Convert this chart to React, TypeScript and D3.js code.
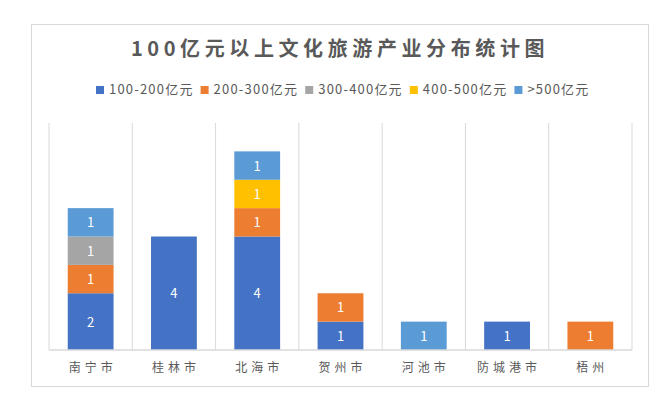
import { useEffect, useRef } from "react";
import * as d3 from "d3";

const cities = ["南宁市", "桂林市", "北海市", "贺州市", "河池市", "防城港市", "梧州"];
const seriesNames = ["100-200亿元", "200-300亿元", "300-400亿元", "400-500亿元", ">500亿元"];
const seriesColors = ["#4472C4", "#ED7D31", "#A5A5A5", "#FFC000", "#5B9BD5"];

const range100to200 = [2, 4, 4, 1, 0, 1, 0];
const range200to300 = [1, 0, 1, 1, 0, 0, 1];
const range300to400 = [1, 0, 0, 0, 0, 0, 0];
const range400to500 = [0, 0, 1, 0, 0, 0, 0];
const rangeOver500 = [1, 0, 1, 0, 1, 0, 0];

const title = "100亿元以上文化旅游产业分布统计图";
const FONT = "'Noto Sans CJK SC', 'Noto Sans', sans-serif";

export default function App() {
  const svgRef = useRef<SVGSVGElement>(null);

  useEffect(() => {
    if (!svgRef.current) return;
    const svg = d3.select(svgRef.current);
    svg.selectAll("*").remove();

    const width = 665;
    const height = 399;
    svg.attr("width", width).attr("height", height);

    svg.append("rect").attr("width", width).attr("height", height).attr("fill", "#fff");

    // chart frame
    svg
      .append("rect")
      .attr("x", 31.5)
      .attr("y", 24.5)
      .attr("width", 617)
      .attr("height", 362)
      .attr("fill", "#fff")
      .attr("stroke", "#d9d9d9");

    // Title
    svg
      .append("text")
      .attr("x", 340)
      .attr("y", 56)
      .attr("text-anchor", "middle")
      .attr("font-family", FONT)
      .attr("font-size", 20)
      .attr("font-weight", "bold")
      .attr("letter-spacing", 4.6)
      .attr("fill", "#595959")
      .text(title);

    // Legend
    const legend = svg.append("g").attr("font-family", FONT).attr("font-size", 13);
    let lx = 96;
    seriesNames.forEach((name, i) => {
      legend
        .append("rect")
        .attr("x", lx)
        .attr("y", 86)
        .attr("width", 8)
        .attr("height", 8)
        .attr("fill", seriesColors[i]);
      const t = legend
        .append("text")
        .attr("x", lx + 13)
        .attr("y", 94)
        .attr("letter-spacing", 1.2)
        .attr("fill", "#595959")
        .text(name);
      const w = (t.node() as SVGTextElement).getComputedTextLength();
      lx += 13 + w + 7;
    });

    const rows = cities.map((c, i) => ({
      city: c,
      [seriesNames[0]]: range100to200[i],
      [seriesNames[1]]: range200to300[i],
      [seriesNames[2]]: range300to400[i],
      [seriesNames[3]]: range400to500[i],
      [seriesNames[4]]: rangeOver500[i],
    }));

    const x = d3.scaleBand().domain(cities).range([49, 632]).padding(0);
    const y = d3.scaleLinear().domain([0, 8]).range([350, 123]);
    const barW = x.bandwidth() * 0.55;

    // category separators
    const grid = [...cities.map((c) => x(c)!), 632];
    svg
      .append("g")
      .selectAll("line")
      .data(grid)
      .join("line")
      .attr("x1", (d) => d)
      .attr("x2", (d) => d)
      .attr("y1", y(8))
      .attr("y2", y(0))
      .attr("stroke", "#d9d9d9");

    const stack = d3.stack<any>().keys(seriesNames);
    const layers = stack(rows);

    const g = svg.append("g");
    layers.forEach((layer, i) => {
      layer.forEach((d) => {
        const v = d[1] - d[0];
        if (v <= 0) return;
        const cx = x(d.data.city)! + x.bandwidth() / 2;
        g.append("rect")
          .attr("x", cx - barW / 2)
          .attr("y", y(d[1]))
          .attr("width", barW)
          .attr("height", y(d[0]) - y(d[1]))
          .attr("fill", seriesColors[i]);
        g.append("text")
          .attr("x", cx)
          .attr("y", (y(d[0]) + y(d[1])) / 2 + 5)
          .attr("text-anchor", "middle")
          .attr("font-family", FONT)
          .attr("font-size", 13)
          .attr("fill", "#fff")
          .text(v);
      });
    });

    // baseline
    svg
      .append("line")
      .attr("x1", 49)
      .attr("x2", 632)
      .attr("y1", y(0))
      .attr("y2", y(0))
      .attr("stroke", "#d9d9d9")
      .attr("stroke-width", 1.5);

    // x labels
    svg
      .append("g")
      .selectAll("text")
      .data(cities)
      .join("text")
      .attr("x", (d) => x(d)! + x.bandwidth() / 2 + 2)
      .attr("y", 372)
      .attr("text-anchor", "middle")
      .attr("font-family", FONT)
      .attr("font-size", 12)
      .attr("letter-spacing", 4)
      .attr("fill", "#595959")
      .text((d) => d);
  }, []);

  return (
    <div style={{ position: "absolute", left: 0, top: 0 }}>
      <svg ref={svgRef} style={{ display: "block" }} />
    </div>
  );
}
